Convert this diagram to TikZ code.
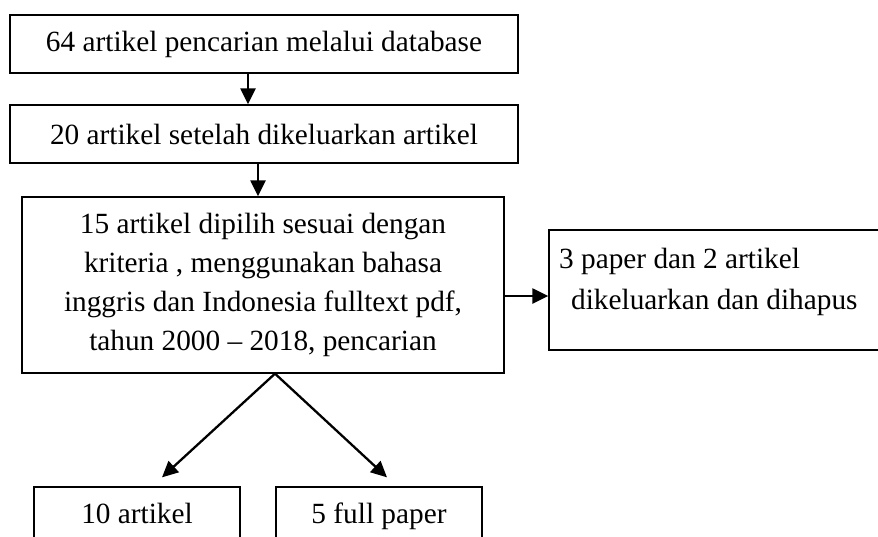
\documentclass[tikz,border=0pt]{standalone}
\usepackage{fontspec}
\setmainfont{Liberation Serif}
\usetikzlibrary{arrows.meta,positioning}

\begin{document}
\begin{tikzpicture}[x=1pt,y=-1pt,->,>={Triangle[length=16pt,width=15pt]},
		line width=2.3pt,
		main node/.style={rectangle,draw,line width=1.3pt,inner sep=0pt,
			font=\fontsize{29.3}{39}\selectfont},
		text node/.style={rectangle,inner sep=0pt,align=left,
			font=\fontsize{29.3}{41}\selectfont}]
		
		\useasboundingbox (0,0) rectangle (878,536);
		
		\node[main node,minimum width=508pt,minimum height=58pt] (a) at (264,44) {64 artikel pencarian melalui database};
		\node[main node,minimum width=508pt,minimum height=58pt] (b) at (264,134) {20 artikel setelah dikeluarkan artikel};
		\node[main node,minimum width=482pt,minimum height=176pt,align=center] (c) at (263,285)
			{15 artikel dipilih sesuai dengan\\ kriteria , menggunakan bahasa\\ inggris dan Indonesia fulltext pdf,\\ tahun 2000 -- 2018, pencarian};
		
		\node[main node,minimum width=342pt,minimum height=120pt] (d) at (720,290) {};
		\node[text node,anchor=north west] (dtext) at (558,247) {3 paper dan 2 artikel\\ \hspace{12pt}dikeluarkan dan dihapus};
		
		\node[main node,minimum width=206pt,minimum height=70pt] (e) at (137,522) {};
		\node[text node,anchor=base] (etext) at (137,523) {10 artikel};
		\node[main node,minimum width=206pt,minimum height=70pt] (f) at (379,522) {};
		\node[text node,anchor=base] (ftext) at (379,523) {5 full paper};
		
		\draw ([xshift=-16pt]a.south) -- ([xshift=-16pt]b.north);
		\draw ([xshift=-6pt]b.south) -- ([xshift=-5pt]c.north);
		\draw ([yshift=-11pt]c.east) -- ([yshift=-6pt]d.west);
		\draw ([xshift=12pt]c.south) -- ([xshift=25pt,yshift=9pt]e.north);
		\draw ([xshift=12pt]c.south) -- ([xshift=8pt,yshift=9pt]f.north);
		
\end{tikzpicture}
\end{document}
